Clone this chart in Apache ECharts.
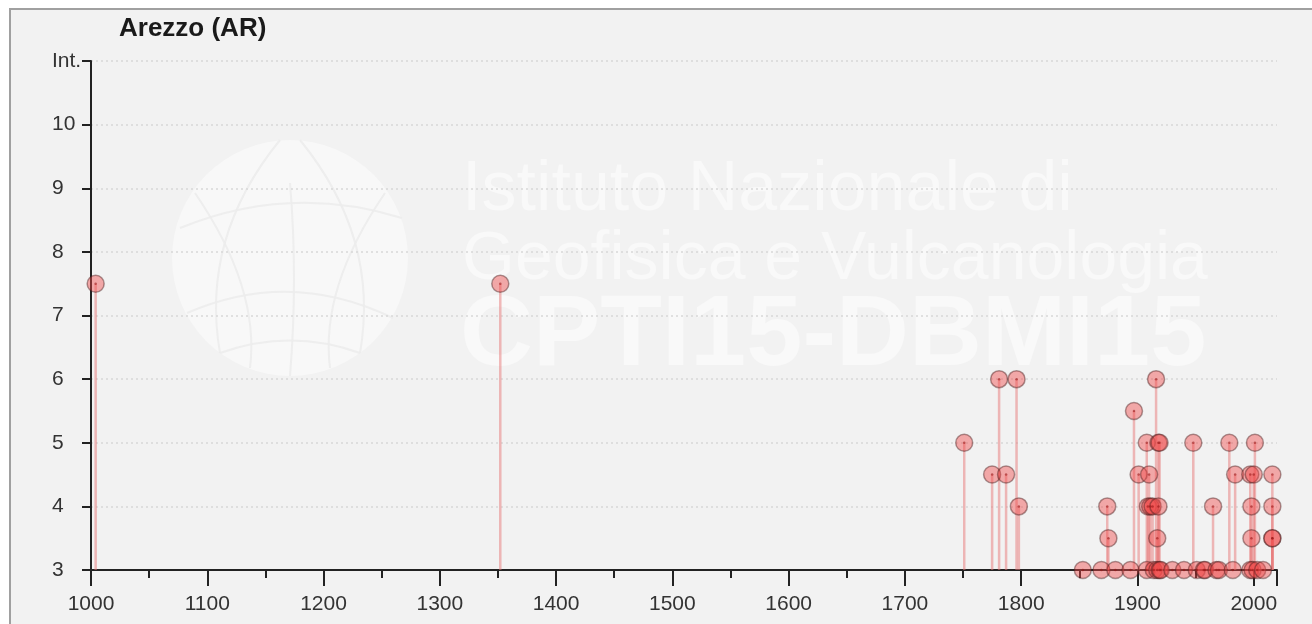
<!DOCTYPE html>
<html>
<head>
<meta charset="utf-8">
<style>
  html, body { margin: 0; padding: 0; background: #ffffff; }
  #chart { width: 1312px; height: 624px; }
</style>
<script src="https://cdn.jsdelivr.net/npm/echarts@6/dist/echarts.min.js"></script>
</head>
<body>
<div id="chart"></div>
<script>
// Seismic history of Arezzo (AR): year of each event and felt intensity
const title = 'Arezzo (AR)';
const years = [
  1004, 1352, 1751, 1775, 1781, 1787, 1796, 1798,
  1853, 1869, 1874, 1875, 1881, 1894, 1897, 1901,
  1908, 1908, 1909, 1910, 1911, 1913, 1914, 1916,
  1917, 1917, 1918, 1919, 1918, 1919, 1920, 1930,
  1940, 1948, 1951, 1957, 1958, 1965, 1968, 1970,
  1979, 1982, 1984, 1997, 1997, 1998, 1998, 1999,
  2000, 2001, 2003, 2008, 2016, 2016, 2016, 2016
];
const intensity = [
  7.5, 7.5, 5, 4.5, 6, 4.5, 6, 4,
  3, 3, 4, 3.5, 3, 3, 5.5, 4.5,
  3, 5, 4, 4.5, 4, 4, 3, 6,
  3.5, 3, 5, 5, 4, 3, 3, 3,
  3, 5, 3, 3, 3, 4, 3, 3,
  5, 3, 4.5, 3, 4.5, 4, 3.5, 3,
  4.5, 5, 3, 3, 4.5, 4, 3.5, 3.5
];
const yAxisMin = 3;
const yAxisMax = 11;
const topLabel = 'Int.';
const watermarkLines = ['Istituto Nazionale di', 'Geofisica e Vulcanologia', 'CPTI15-DBMI15'];

const points = years.map((y, i) => [y, intensity[i]]);

const chart = echarts.init(document.getElementById('chart'), null, { renderer: 'canvas' });

const font = '"Liberation Sans", Arial, sans-serif';

// faint globe emblem behind the plot
const cx = 290, cy = 258, r = 118;
const globeCurves = [
  // meridian-like arcs
  { x1: cx - 10, y1: cy - r, cpx1: cx - 90, cpy1: cy - 20, x2: cx - 70, y2: cy + 95 },
  { x1: cx + 10, y1: cy - r, cpx1: cx + 90, cpy1: cy - 20, x2: cx + 70, y2: cy + 95 },
  { x1: cx, y1: cy - 75, cpx1: cx + 8, cpy1: cy + 20, x2: cx, y2: cy + r },
  // parallels / cross arcs
  { x1: cx - r + 8, y1: cy - 30, cpx1: cx, cpy1: cy - 75, x2: cx + r - 6, y2: cy - 40 },
  { x1: cx - r + 15, y1: cy + 55, cpx1: cx, cpy1: cy + 10, x2: cx + r - 15, y2: cy + 60 },
  { x1: cx - 70, y1: cy + 95, cpx1: cx, cpy1: cy + 70, x2: cx + 70, y2: cy + 95 },
  { x1: cx - 95, y1: cy - 65, cpx1: cx - 30, cpy1: cy + 30, x2: cx - 40, y2: cy + 110 },
  { x1: cx + 95, y1: cy - 65, cpx1: cx + 30, cpy1: cy + 30, x2: cx + 40, y2: cy + 110 }
];

const graphic = [
  {
    type: 'rect', z: -10, silent: true,
    shape: { x: 10, y: 9, width: 1400, height: 700 },
    style: { fill: '#f2f2f2', stroke: '#a0a0a0', lineWidth: 2 }
  },
  {
    type: 'circle', z: -9, silent: true,
    shape: { cx: cx, cy: cy, r: r },
    style: { fill: 'rgba(255,255,255,0.45)' }
  }
].concat(globeCurves.map(c => ({
  type: 'bezierCurve', z: -8, silent: true,
  shape: c,
  style: { stroke: 'rgba(236,236,236,0.9)', lineWidth: 2, fill: null }
}))).concat([
  {
    type: 'text', z: -8, silent: true, left: 462, top: 156,
    style: { text: watermarkLines[0], font: '400 70px ' + font, fill: 'rgba(255,255,255,0.5)' }
  },
  {
    type: 'text', z: -8, silent: true, left: 462, top: 226,
    style: { text: watermarkLines[1], font: '400 68px ' + font, fill: 'rgba(255,255,255,0.5)' }
  },
  {
    type: 'text', z: -8, silent: true, left: 460, top: 287,
    style: { text: watermarkLines[2], font: '700 101px ' + font, fill: 'rgba(255,255,255,0.5)' }
  },
  {
    type: 'text', left: 119, top: 16,
    style: { text: title, font: '700 26px ' + font, fill: '#1a1a1a' }
  }
]);

const option = {
  backgroundColor: '#ffffff',
  animation: false,
  graphic: graphic,
  grid: { left: 91, right: 35, top: 61, bottom: 54, containLabel: false },
  xAxis: {
    type: 'value',
    min: 1000, max: 2020, interval: 100,
    axisLine: { show: true, onZero: false, lineStyle: { color: '#222', width: 2 } },
    axisTick: { show: true, length: 16, lineStyle: { color: '#222', width: 2 } },
    minorTick: { show: true, splitNumber: 2, length: 8, lineStyle: { color: '#222', width: 2 } },
    axisLabel: {
      color: '#333', fontSize: 21, fontFamily: font, margin: 24,
      formatter: v => (v % 100 === 0 && v <= 2000) ? String(v) : ''
    },
    splitLine: { show: false }
  },
  yAxis: {
    type: 'value',
    min: yAxisMin, max: yAxisMax, interval: 1,
    axisLine: { show: true, onZero: false, lineStyle: { color: '#222', width: 2 } },
    axisTick: { show: true, length: 9, lineStyle: { color: '#222', width: 2 } },
    axisLabel: {
      color: '#333', fontSize: 21, fontFamily: font, margin: 39, align: 'left',
      formatter: v => v === yAxisMax ? topLabel : String(v)
    },
    splitLine: {
      show: true,
      showMinLine: false,
      lineStyle: { color: '#d8d8d8', type: [2, 3], width: 1.5 }
    }
  },
  series: [
    {
      // stems from the baseline to each intensity
      type: 'custom',
      silent: true,
      z: 2,
      data: points,
      renderItem: function (params, api) {
        const top = api.coord([api.value(0), api.value(1)]);
        const base = api.coord([api.value(0), yAxisMin]);
        return {
          type: 'line',
          shape: { x1: top[0], y1: top[1], x2: base[0], y2: base[1] },
          style: { stroke: 'rgba(232,120,120,0.5)', lineWidth: 2.5 }
        };
      }
    },
    {
      type: 'scatter',
      z: 3,
      data: points,
      symbol: 'circle',
      symbolSize: 17,
      itemStyle: {
        color: 'rgba(238,70,70,0.55)',
        borderColor: 'rgba(70,30,30,0.55)',
        borderWidth: 1.5
      }
    },
    {
      type: 'scatter',
      z: 4,
      silent: true,
      data: points,
      symbol: 'circle',
      symbolSize: 2.5,
      itemStyle: { color: 'rgba(150,20,20,0.7)' }
    }
  ]
};

chart.setOption(option);
</script>
</body>
</html>
